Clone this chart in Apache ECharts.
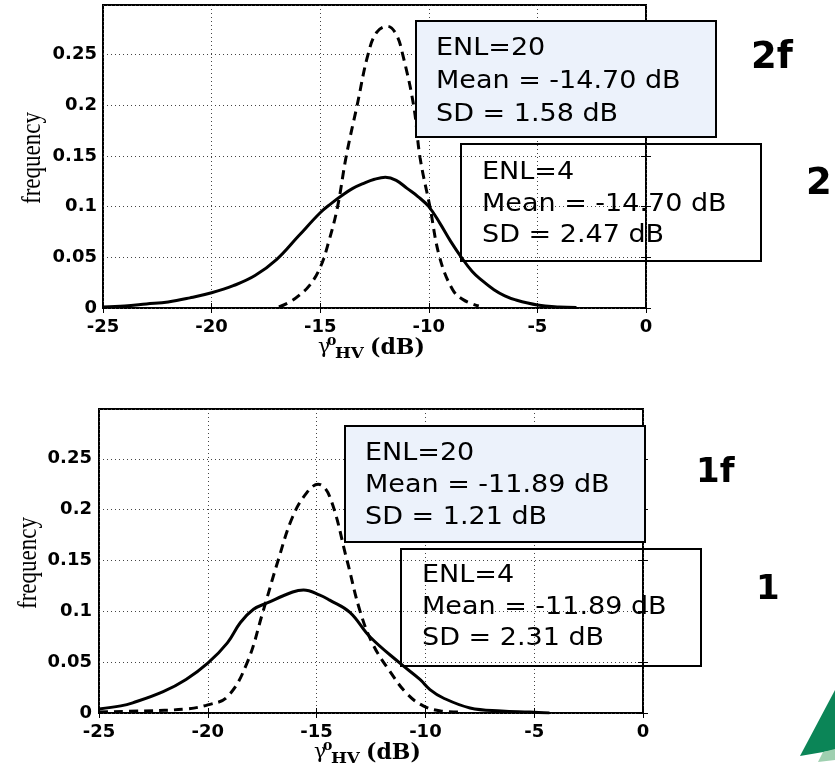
<!DOCTYPE html>
<html>
<head>
<meta charset="utf-8">
<script src="https://cdn.jsdelivr.net/npm/echarts@6/dist/echarts.min.js"></script>
<style>
html,body{margin:0;padding:0;background:#fff;}
#chart{width:835px;height:768px;}
</style>
</head>
<body>
<div id="chart"></div>
<script>
// ---- Data ----
// Top panel (2f / 2)
const topEnl20X = [-16.9,-16.4,-16.0,-15.5,-15.0,-14.6,-14.2,-13.8,-13.3,-12.8,-12.4,-11.9,-11.5,-11.2,-10.7,-10.4,-9.95,-9.5,-8.9,-8.4,-7.7];
const topEnl20Y = [0.001,0.006,0.012,0.022,0.040,0.066,0.100,0.150,0.200,0.250,0.272,0.278,0.270,0.250,0.200,0.148,0.100,0.050,0.018,0.008,0.002];
const topEnl4X = [-25,-24,-23,-22,-21,-20,-19,-18,-17,-16,-15,-14.5,-14,-13.5,-13,-12.5,-12,-11.5,-11,-10.5,-10,-9.5,-9,-8.5,-8,-7.6,-7,-6.5,-6,-5,-4,-3.2];
const topEnl4Y = [0.001,0.002,0.004,0.006,0.010,0.015,0.022,0.032,0.048,0.071,0.094,0.103,0.111,0.118,0.123,0.127,0.129,0.126,0.118,0.110,0.100,0.084,0.066,0.050,0.036,0.028,0.018,0.012,0.008,0.003,0.001,0.0005];
// Bottom panel (1f / 1)
const botEnl20X = [-25,-23,-21,-20,-19.1,-18.2,-17.46,-16.77,-16.1,-15.44,-14.93,-14.4,-13.6,-13.0,-12.4,-11.6,-10.85,-10.1,-9.3,-8.5];
const botEnl20Y = [0.001,0.002,0.004,0.008,0.016,0.049,0.100,0.150,0.193,0.217,0.225,0.213,0.150,0.100,0.067,0.040,0.019,0.007,0.002,0.001];
const botEnl4X = [-25,-24,-23.45,-22.05,-21,-20,-19.1,-18.5,-17.9,-17.3,-16.1,-15.6,-14.85,-14.4,-13.47,-12.55,-11.17,-10.25,-9.79,-9.2,-7.95,-6.5,-5.2,-4.3];
const botEnl4Y = [0.004,0.007,0.010,0.021,0.033,0.049,0.069,0.089,0.102,0.108,0.119,0.121,0.116,0.111,0.099,0.075,0.049,0.033,0.023,0.015,0.005,0.002,0.001,0];

const xTicks = [-25,-20,-15,-10,-5,0];
const yTicks = [0,0.05,0.1,0.15,0.2,0.25];

const topBox20 = ['ENL=20','Mean = -14.70 dB','SD = 1.58 dB'];
const topBox4 = ['ENL=4','Mean = -14.70 dB','SD = 2.47 dB'];
const botBox20 = ['ENL=20','Mean = -11.89 dB','SD = 1.21 dB'];
const botBox4 = ['ENL=4','Mean = -11.89 dB','SD = 2.31 dB'];
const panelTags = ['2f','2','1f','1'];

// ---- Chart ----
const zip = (xs, ys) => xs.map((x, i) => [x, ys[i]]);
const chart = echarts.init(document.getElementById('chart'), null, {renderer: 'canvas'});

const tickFont = {fontFamily: '"DejaVu Sans"', fontWeight: 'bold', fontSize: 18, color: '#000'};
const gridLine = {show: true, lineStyle: {color: '#444', width: 1, type: [1, 3]}};

function xAxes(gi) {
  return [{
    type: 'value', gridIndex: gi, min: xTicks[0], max: xTicks[xTicks.length - 1], interval: 5,
    axisLine: {show: false},
    axisTick: {show: true, inside: true, length: 5, lineStyle: {color: '#000', width: 1}},
    axisLabel: Object.assign({margin: 10, formatter: v => String(v)}, tickFont),
    splitLine: gridLine
  }, {
    type: 'value', gridIndex: gi, position: 'top', min: xTicks[0], max: xTicks[xTicks.length - 1], interval: 5,
    axisLine: {show: false}, axisLabel: {show: false}, splitLine: {show: false},
    axisTick: {show: true, inside: true, length: 5, lineStyle: {color: '#000', width: 1}}
  }];
}
function yAxes(gi, margin) {
  return [{
    type: 'value', gridIndex: gi, min: 0, max: 0.299, interval: 0.05,
    axisLine: {show: false},
    axisTick: {show: true, inside: true, length: 5, lineStyle: {color: '#000', width: 1}},
    axisLabel: Object.assign({margin: margin, showMaxLabel: false,
      formatter: v => (v === 0 ? '0' : String(+v.toFixed(2)))}, tickFont),
    splitLine: gridLine
  }, {
    type: 'value', gridIndex: gi, position: 'right', min: 0, max: 0.299, interval: 0.05,
    axisLine: {show: false}, axisLabel: {show: false}, splitLine: {show: false},
    axisTick: {show: true, inside: true, length: 5, lineStyle: {color: '#000', width: 1}}
  }];
}

function lineSeries(xi, yi, data, dashed) {
  return {
    type: 'line', xAxisIndex: xi, yAxisIndex: yi, data: data, showSymbol: false,
    smooth: 0.4, z: 3, silent: true,
    lineStyle: {color: '#000', width: 3, type: dashed ? [9, 6] : 'solid'}
  };
}

function box(x, y, w, h, fill, lines, tx, ty, lh) {
  return [{
    type: 'rect', z: 100, shape: {x: x, y: y, width: w, height: h},
    style: {fill: fill, stroke: '#000', lineWidth: 2}
  }, {
    type: 'text', z: 101, x: tx, y: ty, scaleX: 1.08,
    style: {text: lines.join('\n'), fontFamily: '"DejaVu Sans"', fontSize: 25, fill: '#000',
      lineHeight: lh, verticalAlign: 'top', align: 'left'}
  }];
}

function tag(text, x, y, size) {
  return {type: 'text', z: 101, x: x, y: y,
    style: {text: text, fontFamily: '"DejaVu Sans"', fontWeight: 'bold', fontSize: size, fill: '#000',
      verticalAlign: 'middle', align: 'left'}};
}

// x-axis title: gamma with superscript o and subscript HV, then (dB)
function xLabel(x0, base) {
  const serif = {fontFamily: '"DejaVu Serif"', fill: '#000', verticalAlign: 'bottom', align: 'left'};
  return [
    {type: 'text', z: 101, x: x0, y: base + 5, style: Object.assign({}, serif, {text: 'γ', fontSize: 20})},
    {type: 'text', z: 101, x: x0 + 9, y: base - 5, style: Object.assign({}, serif, {text: 'o', fontSize: 14, fontWeight: 'bold'})},
    {type: 'text', z: 101, x: x0 + 17, y: base + 8, scaleX: 1.2, style: Object.assign({}, serif, {text: 'HV', fontSize: 14, fontWeight: 'bold'})},
    {type: 'text', z: 101, x: x0 + 52, y: base + 6, style: Object.assign({}, serif, {text: '(dB)', fontSize: 22, fontWeight: 'bold'})}
  ];
}

function yLabel(cx, cy) {
  return {type: 'text', z: 101, x: cx, y: cy, rotation: Math.PI / 2, scaleY: 1.15,
    style: {text: 'frequency', fontFamily: '"Liberation Serif"', fontSize: 23, fill: '#000',
      align: 'center', verticalAlign: 'middle'}};
}

const graphics = [].concat(
  box(416, 21, 300, 116, '#ECF2FB', topBox20, 436, 32, 33),
  box(461, 144, 300, 117, 'rgba(0,0,0,0)', topBox4, 482, 157, 31.5),
  box(345, 426, 300, 116, '#ECF2FB', botBox20, 365, 437, 32),
  box(401, 549, 300, 117, 'rgba(0,0,0,0)', botBox4, 422, 560, 31.5),
  [tag(panelTags[0], 751, 58, 37), tag(panelTags[1], 806, 184, 37),
   tag(panelTags[2], 696, 473, 34), tag(panelTags[3], 756, 590, 34)],
  xLabel(318, 353), xLabel(314, 758),
  [yLabel(33, 158), yLabel(29, 563)],
  [{type: 'polygon', z: 90, shape: {points: [[800, 756], [835, 690], [835, 750]]}, style: {fill: '#0B8557'}},
   {type: 'polygon', z: 90, shape: {points: [[818, 762], [823, 752], [835, 749], [835, 760]]}, style: {fill: '#9FD0B0'}}]
);

chart.setOption({
  animation: false,
  backgroundColor: '#fff',
  grid: [
    {left: 103, top: 5, width: 543, height: 303, show: true, borderColor: '#000', borderWidth: 2, backgroundColor: 'rgba(0,0,0,0)'},
    {left: 99, top: 409, width: 544, height: 304, show: true, borderColor: '#000', borderWidth: 2, backgroundColor: 'rgba(0,0,0,0)'}
  ],
  xAxis: xAxes(0).concat(xAxes(1)),
  yAxis: yAxes(0, 6).concat(yAxes(1, 7)),
  series: [
    lineSeries(0, 0, zip(topEnl4X, topEnl4Y), false),
    lineSeries(0, 0, zip(topEnl20X, topEnl20Y), true),
    lineSeries(2, 2, zip(botEnl4X, botEnl4Y), false),
    lineSeries(2, 2, zip(botEnl20X, botEnl20Y), true)
  ],
  graphic: graphics
});
</script>
</body>
</html>
